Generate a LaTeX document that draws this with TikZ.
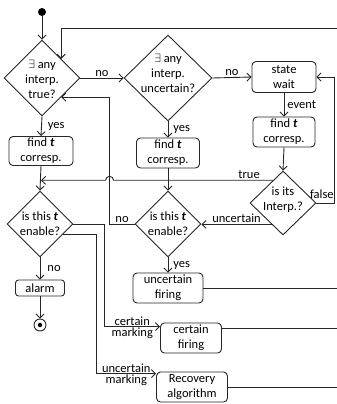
\documentclass[tikz,border=0pt]{standalone}
\usepackage{fontspec}
\setmainfont{Carlito}
\usetikzlibrary{shapes.geometric,arrows.meta,calc}
\newcommand{\tvar}{\textbf{\textit{t}}}
\begin{document}
\begin{tikzpicture}[x=1pt, y=-1pt,
    every node/.style={font=\fontsize{12.5}{15}\selectfont, inner sep=1pt},
    line/.style={draw=black!85, line width=0.9pt},
    >={Straight Barb[length=4pt,width=8pt]},
    dec/.style={line, diamond, inner sep=0pt},
    box/.style={line, rounded corners=4pt, align=center, inner sep=0pt, minimum height=30}]
    \useasboundingbox (0,0) rectangle (337,404);
    \coordinate (re) at (337,28);
    \node [circle, fill=black, minimum size=8, inner sep=0pt] (init) at (42,12) {};
    \node [dec, minimum width=76, minimum height=76] (d1) at (42,78) {};
    \node [align=center] (d1t) at (42,79) {$\exists$ any\\interp.\\true?};
    \node [dec, minimum width=88, minimum height=86] (d2) at (168,78) {};
    \node [align=center] (d2t) at (168,73) {$\exists$ any\\interp.\\uncertain?};
    \node [box, minimum width=64, minimum height=31] (sw) at (284,77) {state\\wait};
    \node [box, minimum width=62] (f3) at (284,132) {find \tvar\\corresp.};
    \node [dec, minimum width=66, minimum height=64] (d5) at (283,203) {};
    \node [align=center] (d5t) at (283,200) {is its\\Interp.?};
    \node [box, minimum width=64, minimum height=29] (f1) at (41,151) {find \tvar\\corresp.};
    \node [box, minimum width=63] (f2) at (168,153) {find \tvar\\corresp.};
    \node [dec, minimum width=66, minimum height=66] (d3) at (40,224) {};
    \node [align=center] (d3t) at (40,224) {is this \tvar\\enable?};
    \node [dec, minimum width=66, minimum height=66] (d4) at (168,224) {};
    \node [align=center] (d4t) at (168,224) {is this \tvar\\enable?};
    \node [box, rounded corners=3pt, minimum width=49, minimum height=16] (alarm) at (40,288) {alarm};
    \node [circle, line, minimum size=12, inner sep=0pt] (fin) at (40,325) {};
    \node [circle, fill=black, minimum size=4.5, inner sep=0pt] (findot) at (fin) {};
    \node [box, minimum width=70] (uf) at (168,288) {uncertain\\firing};
    \node [box, minimum width=61] (cf) at (191,338) {certain\\firing};
    \node [box, minimum width=71] (rec) at (192,387) {Recovery\\algorithm};
    \draw [line, ->] (init) -- (d1.north);
    \draw [line, ->] (re) -| (d1.north east);
    \draw [line, ->] (d1.east) -- node[above] {no} (d2.west);
    \draw [line, ->] (d2.east) -- node[above] {no} (sw.west);
    \draw [line, ->] (d1.south) -- node[right=5pt] {yes} (f1.north);
    \draw [line, ->] (d2.south) -- node[right=4pt] {yes} (f2.north);
    \draw [line, ->] (sw.south) -- node[right=2pt] {event} (f3.north);
    \draw [line, ->] (f1.south) -- (d3.north);
    \draw [line, ->] (f2.south) -- (d4.north);
    \draw [line, ->] (f3.south) -- (d5.north);
    \draw [line, ->] (d5.east) -- node[above=3pt, pos=0.3] {false} ++(18,0) |- (sw.east);
    \draw [line, ->] (d4.west) -- node[above] {no} ++(-25,0) coordinate (nl) |- (d1.south east);
    \draw [line, ->] ($(d5.north)!0.3!(d5.west)$) coordinate (ts)
        -- node[above, pos=0.15] {true} ($(ts -| nl)+(4,0)$)
        arc [start angle=0, end angle=-180, radius=4] -- (ts -| f1.south);
    \draw [line, ->] ($(d5.south)!0.34!(d5.west)$) coordinate (us) -- node[above] {uncertain} (us -| d4.east);
    \draw [line, ->] (d3.south) -- node[right=6pt] {no} (alarm.north);
    \draw [line, ->] (alarm.south) -- (fin.north);
    \draw [line, ->] (d4.south) -- node[right=4pt] {yes} (uf.north);
    \draw [line, ->] (d3.east) -- ++(31,0) |- node[above, pos=0.75] {certain} node[below, pos=0.75] {marking} ($(cf.north west)+(0,4)$);
    \draw [line, ->] ($(d3.east)!0.3!(d3.south)$) -- ++(33,0) |- node[above, pos=0.75] {uncertain} node[below, pos=0.75] {marking} ($(rec.north west)+(0,2)$);
    \draw [line] (uf.east) -- (uf.east -| re);
    \draw [line] ($(cf.north east)+(0,6)$) coordinate (co) -- (co -| re);
    \draw [line] (rec.east) -- (rec.east -| re);
\end{tikzpicture}
\end{document}
